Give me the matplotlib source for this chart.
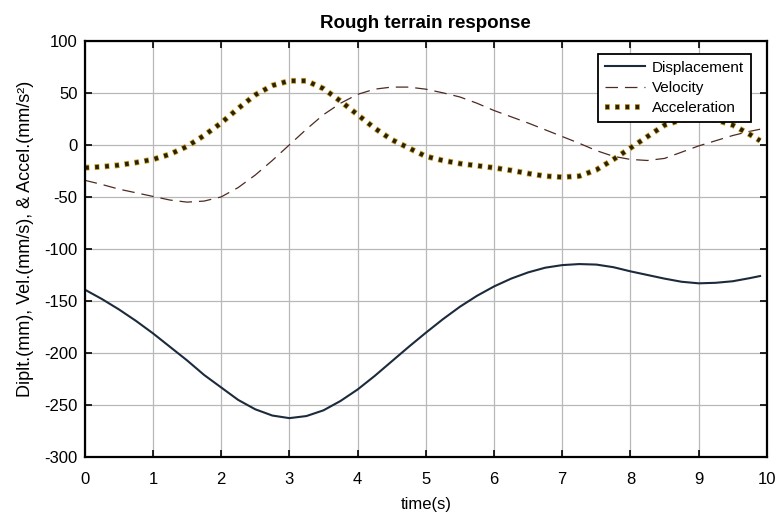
import numpy as np
import matplotlib
matplotlib.use("Agg")
import matplotlib.pyplot as plt

plt.rcParams['font.family'] = ['Liberation Sans', 'DejaVu Sans']
plt.rcParams['axes.unicode_minus'] = False
plt.rcParams['lines.scale_dashes'] = False  # dash lengths in points

# time samples (s), every 0.25 s
time = [0, 0.25, 0.5, 0.75, 1.0, 1.25, 1.5, 1.75, 2.0, 2.25, 2.5, 2.75,
        3.0, 3.25, 3.5, 3.75, 4.0, 4.25, 4.5, 4.75, 5.0, 5.25, 5.5, 5.75,
        6.0, 6.25, 6.5, 6.75, 7.0, 7.25, 7.5, 7.75, 8.0, 8.25, 8.5, 8.75,
        9.0, 9.25, 9.5, 9.75, 9.9]

displacement = [-139, -148, -158, -169, -181, -194, -207, -221, -233, -245,
                -254, -260, -262.5, -260.5, -255, -246, -235, -222, -208, -194,
                -180.5, -167.5, -155.5, -145, -136, -128.5, -122.5, -118, -115.5, -114.5,
                -115, -117.5, -121.5, -125, -128.5, -131.5, -133, -132.5, -131, -128, -126]

velocity = [-34, -38, -42.5, -46, -49.5, -53, -55, -54, -50, -41,
            -29, -15, 0, 15, 29, 40, 48.5, 53.5, 55.5, 55.5,
            53.5, 50, 46, 40, 33, 27, 21, 14.5, 8, 1.5,
            -5.5, -11, -14, -15, -13, -7, -1, 4, 9, 13, 15]

acceleration = [-22, -21, -19.5, -17, -14, -9, -1.5, 9, 21, 35,
                48, 57, 61.5, 61.5, 54, 42, 29, 16, 5, -3,
                -11, -15, -18, -20, -22, -24.5, -27.5, -30, -31, -30,
                -24, -14, -3, 8, 19, 24, 26, 24, 19, 10, 4]

yticks = [-300, -250, -200, -150, -100, -50, 0, 50, 100]
xticks = list(range(0, 11))

fig = plt.figure(figsize=(7.77, 5.16), dpi=100)
ax = fig.add_axes([0.109, 0.114, 0.878, 0.807])

l1, = ax.plot(time, displacement, color='#1c2b3c', lw=1.5)
l2, = ax.plot(time, velocity, color='#4e2a22', lw=0.9, linestyle=(0, (9, 5)))
# dotted acceleration: gold dots with a dark core (dark dot centred in gold one)
l3a, = ax.plot(time, acceleration, color='#c9a227', lw=4.2,
               linestyle=(0, (3.4, 3.8)), dash_capstyle='butt')
l3b, = ax.plot(time, acceleration, color='#2a2008', lw=3.0,
               linestyle=(6.8, (2.6, 4.6)), dash_capstyle='butt')

ax.set_xlim(0, 10)
ax.set_ylim(-300, 100)
ax.set_xticks(xticks)
ax.set_yticks(yticks)
ax.grid(True, color='#b8b8b8', lw=0.9)
ax.set_axisbelow(True)
ax.tick_params(direction='in', length=5, width=1.2, top=True, right=True,
               labelsize=12)
ax.tick_params(axis='x', pad=11)
ax.tick_params(axis='y', pad=5)
for s in ax.spines.values():
    s.set_linewidth(1.6)

ax.set_title('Rough terrain response', fontsize=13.5, fontweight='bold', pad=9)
ax.set_xlabel('time(s)', fontsize=12, labelpad=7)
ax.set_ylabel('Diplt.(mm), Vel.(mm/s), & Accel.(mm/s²)', fontsize=13)
ax.yaxis.set_label_coords(-0.075, 0.525)

leg = ax.legend([l1, l2, (l3a, l3b)], ['Displacement', 'Velocity', 'Acceleration'],
                loc='upper right', bbox_to_anchor=(0.977, 0.969), borderaxespad=0,
                fontsize=11, fancybox=False, framealpha=1, edgecolor='black',
                handlelength=2.6, labelspacing=0.42, borderpad=0.45, handletextpad=0.5)
leg.get_frame().set_linewidth(1.3)

fig.savefig('out.png', dpi=100)
